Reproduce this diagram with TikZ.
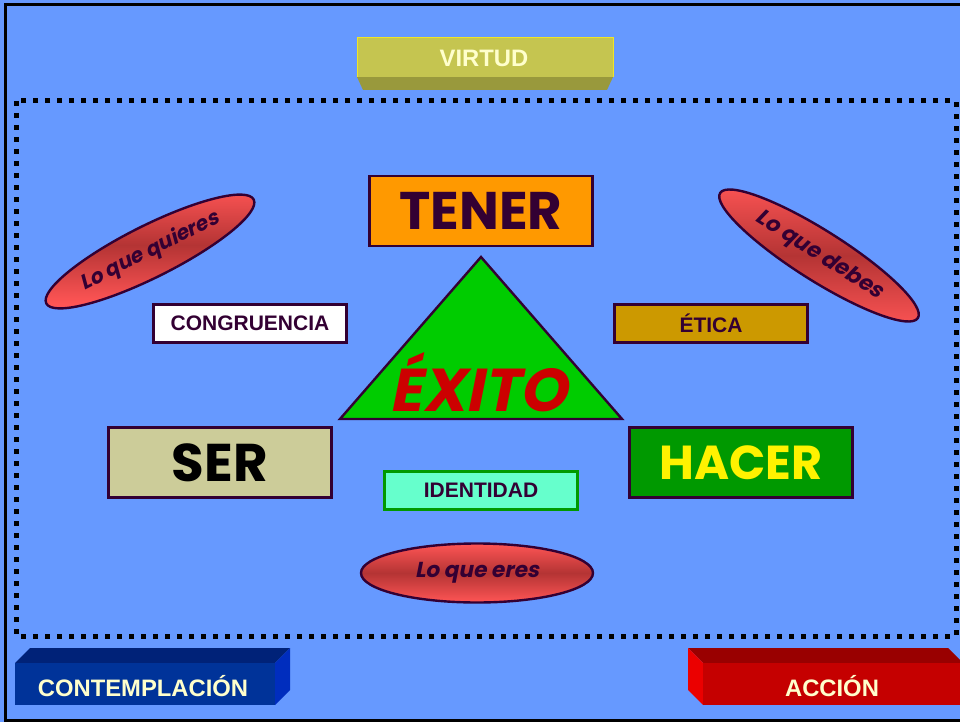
\documentclass[tikz,border=0pt]{standalone}
\usepackage{fontspec}
\usepackage{graphicx}
\setmainfont{Liberation Sans}
\newfontfamily\comicf{Poppins}
\newfontfamily\comicsl{Poppins}[FakeSlant=0.2]
\usetikzlibrary{shapes.geometric}
\definecolor{bg}{RGB}{102,153,255}
\definecolor{dpur}{RGB}{51,0,51}
\definecolor{cream}{RGB}{255,255,204}
\definecolor{virtf}{RGB}{197,197,80}
\definecolor{virtb}{RGB}{153,153,60}
\definecolor{contf}{RGB}{0,51,153}
\definecolor{contt}{RGB}{0,34,120}
\definecolor{conts}{RGB}{0,45,190}
\definecolor{accf}{RGB}{197,0,0}
\definecolor{acct}{RGB}{153,0,0}
\definecolor{accs}{RGB}{235,0,0}
\definecolor{tenerc}{RGB}{255,153,0}
\definecolor{eticac}{RGB}{204,153,0}
\definecolor{serc}{RGB}{204,204,153}
\definecolor{hacerc}{RGB}{0,153,0}
\definecolor{identc}{RGB}{102,255,204}
\definecolor{trianc}{RGB}{0,204,0}
\definecolor{exitoc}{RGB}{204,0,0}
\definecolor{ellout}{RGB}{255,85,85}
\definecolor{ellmid}{RGB}{180,52,52}
\newcommand\fitw[2]{\resizebox{#1}{!}{#2}}
\begin{document}
\begin{tikzpicture}[x=1pt,y=-1pt,
  box/.style={draw=dpur, line width=2.4pt, rectangle, inner sep=0pt},
  smallbox/.style={box, minimum width=193pt, minimum height=38pt, font=\bfseries\fontsize{21}{21}\selectfont, text=dpur},
  bigbox/.style={box, minimum width=223pt, minimum height=70pt},
  oval/.style={draw=dpur, line width=2.4pt, ellipse, inner sep=0pt, top color=ellout, bottom color=ellout, middle color=ellmid, text=dpur},
  slabtext/.style={font=\bfseries\fontsize{23.8}{24}\selectfont, text=cream, inner sep=0pt}]
\useasboundingbox (0,0) rectangle (960,722);
\fill[bg] (0,0) rectangle (960,722);
\draw[black, line width=3pt] (5,5) rectangle (975,720);
\draw[black, line width=5pt, dash pattern=on 5pt off 7pt] (16,101) rectangle (956,636);

% VIRTUD slab
\fill[virtb] (357,77) -- (613,77) -- (607,90) -- (363,90) -- cycle;
\fill[virtf] (357,37) rectangle (613,77);
\draw[yellow!70!virtf, line width=0.8pt] (357,77) -- (357,37) -- (613,37) -- (613,77);
\node[slabtext] (virtud) at (484,58) {VIRTUD};

% CONTEMPLACION slab
\fill[contt] (15,663) -- (30,648) -- (290,648) -- (275,663) -- cycle;
\fill[conts] (275,663) -- (290,648) -- (290,690) -- (275,705) -- cycle;
\fill[contf] (15,663) rectangle (275,705);
\node[slabtext] (contemplacion) at (143,686) {CONTEMPLACIÓN};

% ACCION slab
\fill[acct] (688,648) -- (948,648) -- (963,663) -- (703,663) -- cycle;
\fill[accs] (688,648) -- (703,663) -- (703,705) -- (688,690) -- cycle;
\fill[accf] (703,663) rectangle (965,705);
\node[slabtext] (accion) at (832,686) {ACCIÓN};

% triangle
\draw[draw=dpur, line width=2.4pt, fill=trianc, line join=miter] (481,257) -- (622,419) -- (340,419) -- cycle;
\node[inner sep=0pt] (exito) at (478,382) {\fitw{177pt}{\comicsl\bfseries\textcolor{exitoc}{ÉXITO}}};

% boxes
\node[bigbox, fill=tenerc] (tener) at (481,211) {\fitw{163pt}{\comicf\bfseries\textcolor{dpur}{TENER}}};
\node[bigbox, fill=serc] (ser) at (220,462.5) {\fitw{96pt}{\comicf\bfseries\textcolor{black}{SER}}};
\node[bigbox, fill=hacerc] (hacer) at (741,462.5) {\fitw{163pt}{\comicf\bfseries\textcolor{yellow}{HACER}}};
\node[smallbox, fill=white] (congruencia) at (250,323.5) {CONGRUENCIA};
\node[smallbox, fill=eticac] (etica) at (711,323.5) {ÉTICA};
\node[smallbox, fill=identc, draw=hacerc] (identidad) at (481,490.5) {IDENTIDAD};

% ovals
\node[oval, minimum width=232pt, minimum height=52pt, rotate=26.6] (quieres) at (150,251.5) {\fitw{152pt}{\comicsl\bfseries Lo que quieres}};
\node[oval, minimum width=234pt, minimum height=50pt, rotate=-32.3] (debes) at (819,255.5) {\fitw{146pt}{\comicsl\bfseries Lo que debes}};
\node[oval, minimum width=232pt, minimum height=59pt] (eres) at (477,573) {\fitw{124pt}{\comicsl\bfseries Lo que eres}};
\end{tikzpicture}
\end{document}
